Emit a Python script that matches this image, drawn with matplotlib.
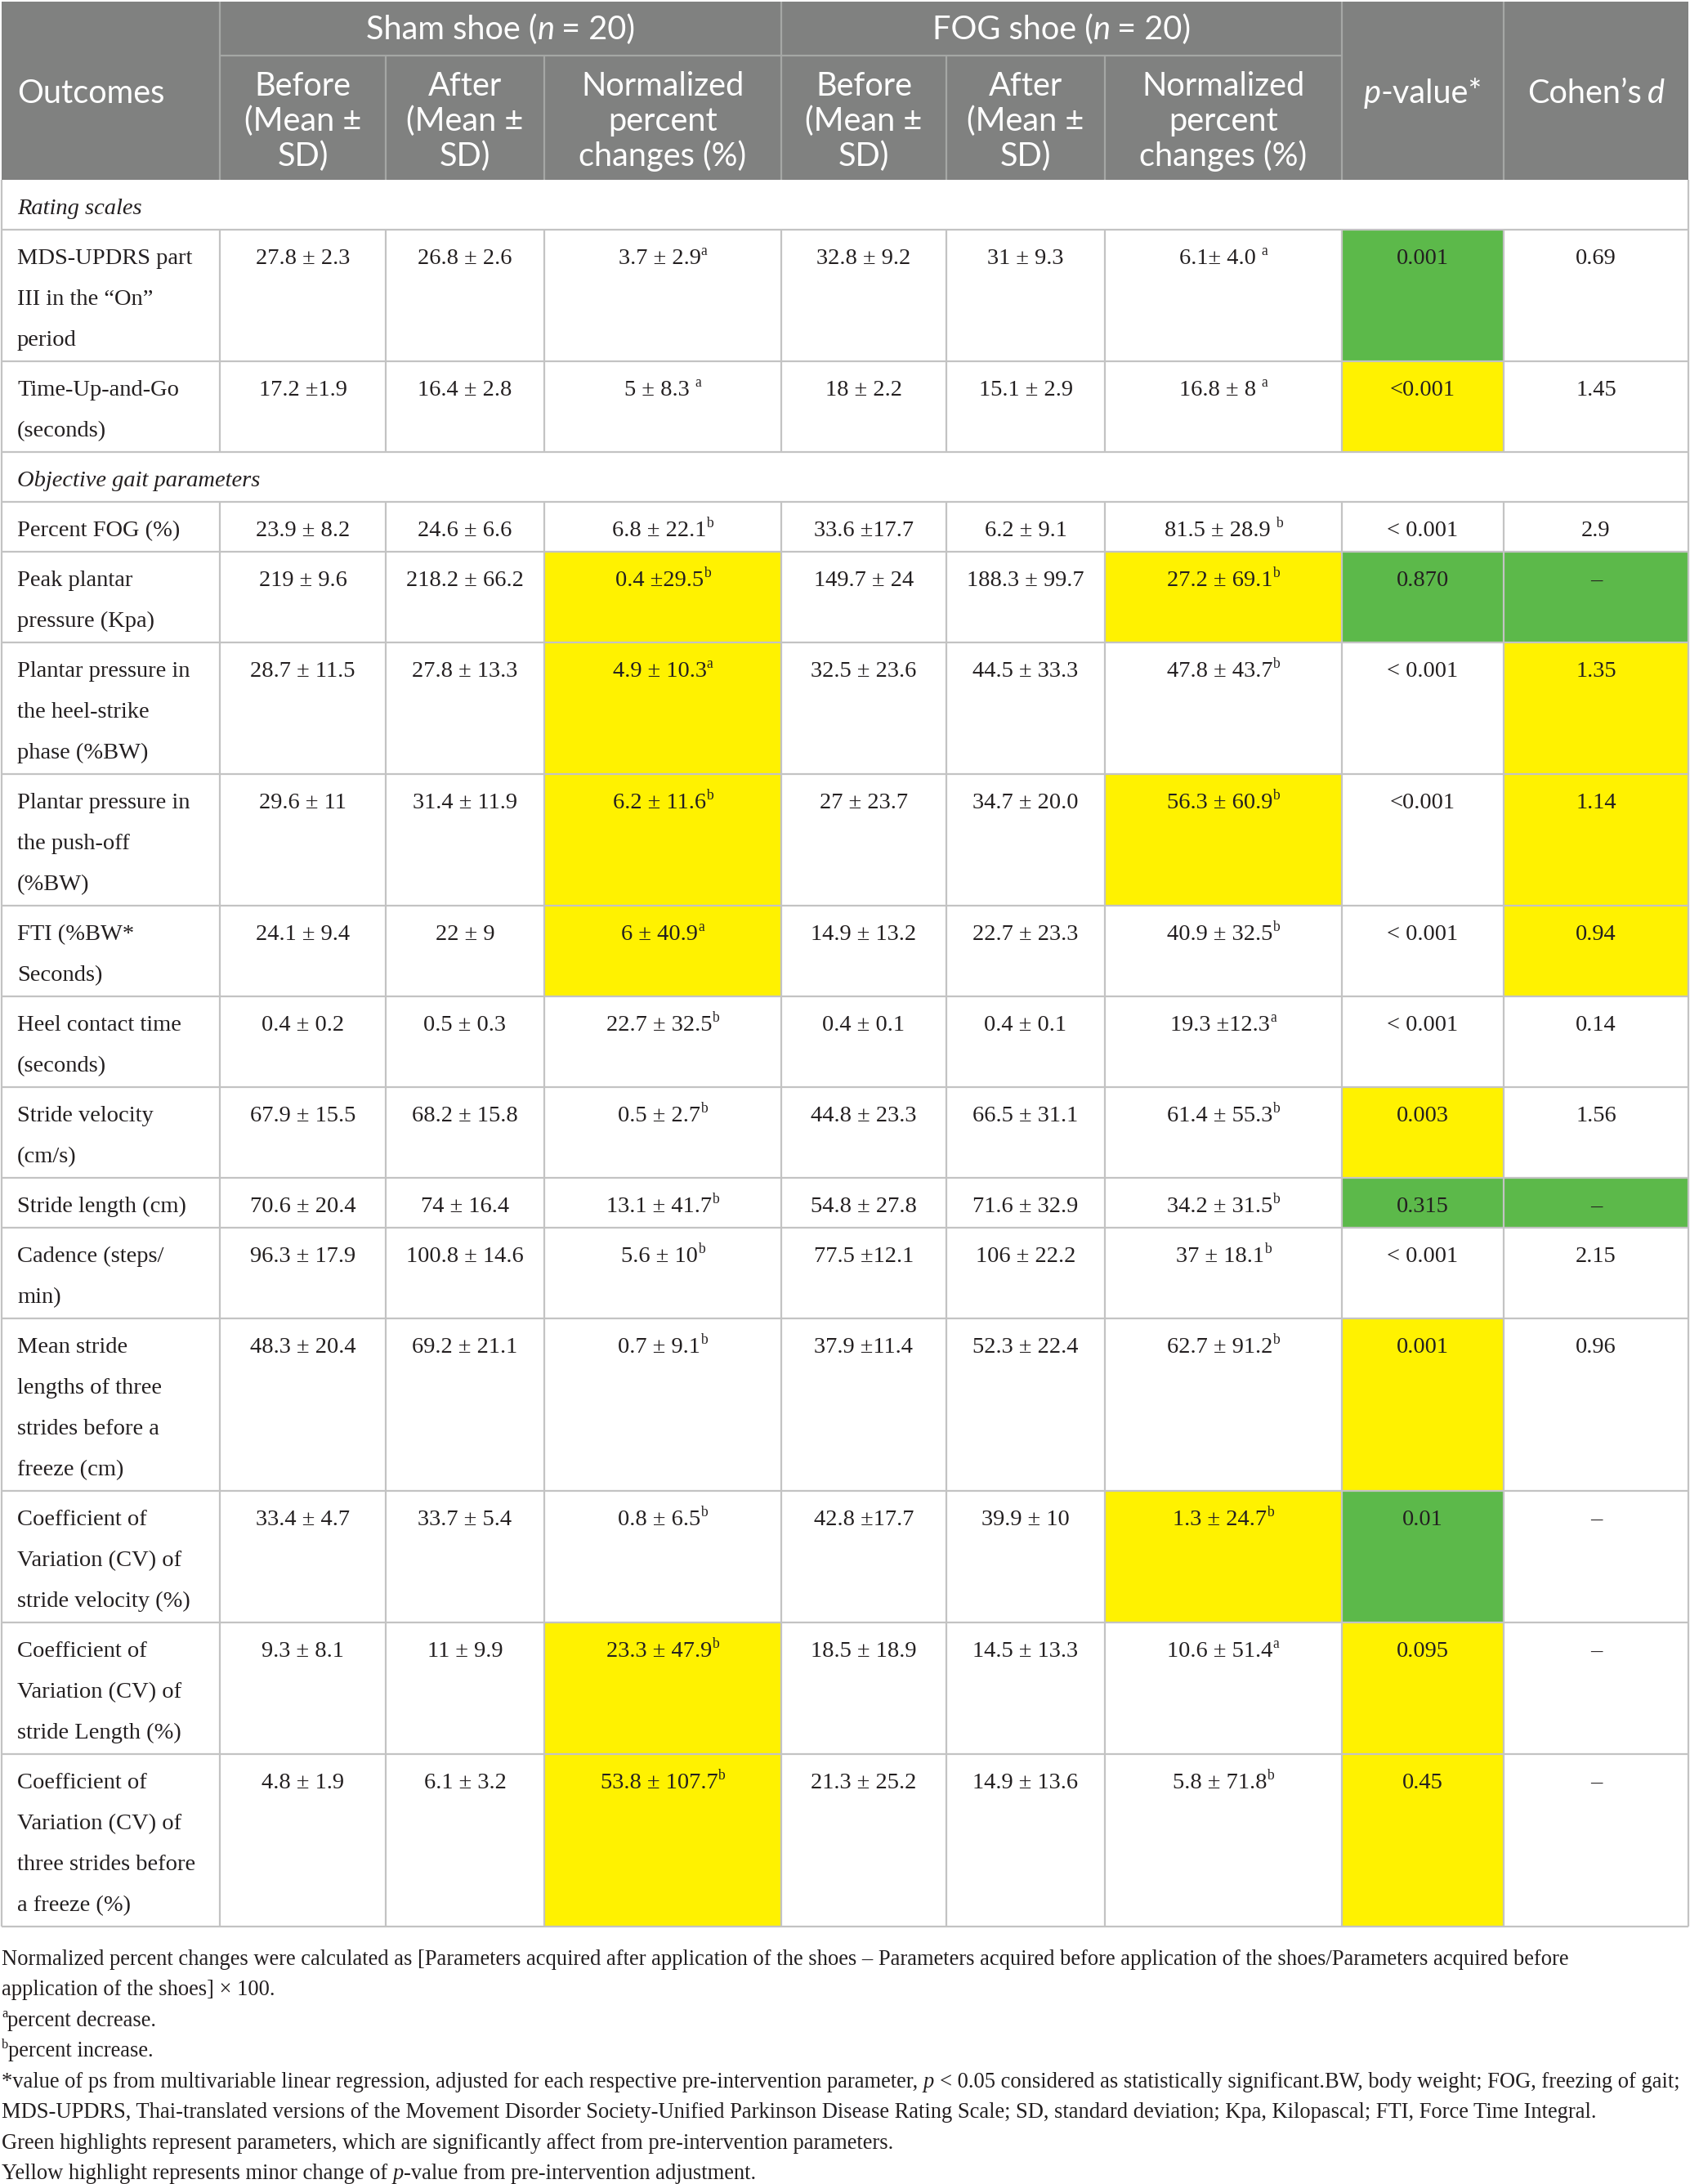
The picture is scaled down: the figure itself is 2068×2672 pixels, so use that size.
import matplotlib
matplotlib.use('Agg')
import matplotlib.pyplot as plt
from matplotlib.patches import Rectangle

W, H, DPI = 2068, 2672, 100

# ---------------- data ----------------
sections = {0: 'Rating scales', 3: 'Objective gait parameters'}

outcomes = [
    None,
    'MDS-UPDRS part\nIII in the “On”\nperiod',
    'Time-Up-and-Go\n(seconds)',
    None,
    'Percent FOG (%)',
    'Peak plantar\npressure (Kpa)',
    'Plantar pressure in\nthe heel-strike\nphase (%BW)',
    'Plantar pressure in\nthe push-off\n(%BW)',
    'FTI (%BW*\nSeconds)',
    'Heel contact time\n(seconds)',
    'Stride velocity\n(cm/s)',
    'Stride length (cm)',
    'Cadence (steps/\nmin)',
    'Mean stride\nlengths of three\nstrides before a\nfreeze (cm)',
    'Coefficient of\nVariation (CV) of\nstride velocity (%)',
    'Coefficient of\nVariation (CV) of\nstride Length (%)',
    'Coefficient of\nVariation (CV) of\nthree strides before\na freeze (%)',
]

sham_before = [None, '27.8 ± 2.3', '17.2 ±1.9', None, '23.9 ± 8.2', '219 ± 9.6', '28.7 ± 11.5',
               '29.6 ± 11', '24.1 ± 9.4', '0.4 ± 0.2', '67.9 ± 15.5', '70.6 ± 20.4', '96.3 ± 17.9',
               '48.3 ± 20.4', '33.4 ± 4.7', '9.3 ± 8.1', '4.8 ± 1.9']
sham_after = [None, '26.8 ± 2.6', '16.4 ± 2.8', None, '24.6 ± 6.6', '218.2 ± 66.2', '27.8 ± 13.3',
              '31.4 ± 11.9', '22 ± 9', '0.5 ± 0.3', '68.2 ± 15.8', '74 ± 16.4', '100.8 ± 14.6',
              '69.2 ± 21.1', '33.7 ± 5.4', '11 ± 9.9', '6.1 ± 3.2']
sham_norm = [None, '3.7 ± 2.9^a', '5 ± 8.3 ^a', None, '6.8 ± 22.1^b', '0.4 ±29.5^b', '4.9 ± 10.3^a',
             '6.2 ± 11.6^b', '6 ± 40.9^a', '22.7 ± 32.5^b', '0.5 ± 2.7^b', '13.1 ± 41.7^b', '5.6 ± 10^b',
             '0.7 ± 9.1^b', '0.8 ± 6.5^b', '23.3 ± 47.9^b', '53.8 ± 107.7^b']
fog_before = [None, '32.8 ± 9.2', '18 ± 2.2', None, '33.6 ±17.7', '149.7 ± 24', '32.5 ± 23.6',
              '27 ± 23.7', '14.9 ± 13.2', '0.4 ± 0.1', '44.8 ± 23.3', '54.8 ± 27.8', '77.5 ±12.1',
              '37.9 ±11.4', '42.8 ±17.7', '18.5 ± 18.9', '21.3 ± 25.2']
fog_after = [None, '31 ± 9.3', '15.1 ± 2.9', None, '6.2 ± 9.1', '188.3 ± 99.7', '44.5 ± 33.3',
             '34.7 ± 20.0', '22.7 ± 23.3', '0.4 ± 0.1', '66.5 ± 31.1', '71.6 ± 32.9', '106 ± 22.2',
             '52.3 ± 22.4', '39.9 ± 10', '14.5 ± 13.3', '14.9 ± 13.6']
fog_norm = [None, '6.1± 4.0 ^a', '16.8 ± 8 ^a', None, '81.5 ± 28.9 ^b', '27.2 ± 69.1^b', '47.8 ± 43.7^b',
            '56.3 ± 60.9^b', '40.9 ± 32.5^b', '19.3 ±12.3^a', '61.4 ± 55.3^b', '34.2 ± 31.5^b', '37 ± 18.1^b',
            '62.7 ± 91.2^b', '1.3 ± 24.7^b', '10.6 ± 51.4^a', '5.8 ± 71.8^b']
p_values = [None, '0.001', '<0.001', None, '< 0.001', '0.870', '< 0.001', '<0.001', '< 0.001',
            '< 0.001', '0.003', '0.315', '< 0.001', '0.001', '0.01', '0.095', '0.45']
cohens_d = [None, '0.69', '1.45', None, '2.9', '–', '1.35', '1.14', '0.94', '0.14', '1.56', '–',
            '2.15', '0.96', '–', '–', '–']

# highlight per data column (g = green, y = yellow)
highlights = [None, '......g.', '......y.', None, '........', '..y..ygg', '..y....y', '..y..y.y',
              '..y....y', '........', '......y.', '......gg', '........', '......y.', '.....yg.',
              '..y...y.', '..y...y.']

footnotes = [
    [('Normalized percent changes were calculated as [Parameters acquired after application of the '
      'shoes – Parameters acquired before application of the shoes/Parameters acquired before', 'n')],
    [('application of the shoes] × 100.', 'n')],
    [('a', 'sup'), ('percent decrease.', 'n')],
    [('b', 'sup'), ('percent increase.', 'n')],
    [('*value of ps from multivariable linear regression, adjusted for each respective pre-intervention '
      'parameter,', 'n'), ('0.25', 'gap'), ('p', 'i'), ('0.25', 'gap'),
     ('< 0.05 considered as statistically significant.BW, body weight; FOG, freezing of gait;', 'n')],
    [('MDS-UPDRS, Thai-translated versions of the Movement Disorder Society-Unified Parkinson Disease '
      'Rating Scale; SD, standard deviation; Kpa, Kilopascal; FTI, Force Time Integral.', 'n')],
    [('Green highlights represent parameters, which are significantly affect from pre-intervention '
      'parameters.', 'n')],
    [('Yellow highlight represents minor change of', 'n'), ('0.25', 'gap'), ('p', 'i'),
     ('-value from pre-intervention adjustment.', 'n')],
]

# ---------------- layout ----------------
col_x = [2, 269, 472, 666, 956, 1158, 1352, 1642, 1840, 2066]
head_top, head_mid, head_bot = 2, 68, 220
line_h = 50
row_pad = 11
first_line = 33
fn_top, fn_step = 2395, 37.5

HEAD_BG = '#808180'
HEAD_LINE = '#a5a7a5'
GRID = '#c3c3c3'
TEXT = '#231f20'
FILL = {'g': '#5cb94a', 'y': '#fff200'}
SERIF = 'Liberation Serif'
SANS = 'Lato'
BODY_FS = 20.5
HEAD_FS = 28.6
FOOT_FS = 19.1

fig = plt.figure(figsize=(W / DPI, H / DPI), dpi=DPI)
ax = fig.add_axes([0, 0, 1, 1])
ax.set_xlim(0, W)
ax.set_ylim(H, 0)
ax.axis('off')
renderer = fig.canvas.get_renderer()


def draw_runs(runs, x, yc, size, family, ha='left', color=TEXT, cap=0.33):
    em = size * DPI / 72
    base = yc + cap * em
    placed = []
    for txt, kind in runs:
        if kind == 'gap':
            placed.append((None, float(txt) * em))
            continue
        fs = size * 0.62 if kind == 'sup' else size
        dy = -0.4 * em if kind == 'sup' else 0
        t = ax.text(0, base + dy, txt, fontsize=fs, family=family, color=color,
                    style='italic' if kind == 'i' else 'normal', va='baseline', ha='left')
        placed.append((t, t.get_window_extent(renderer).width))
    total = sum(w for _, w in placed)
    x0 = x - total / 2 if ha == 'center' else x
    for t, w in placed:
        if t is not None:
            t.set_x(x0)
        x0 += w
    return total


def cell_runs(s):
    if '^' not in s:
        return [(s, 'n')]
    main, note = s.split('^')
    runs = [(main.rstrip(), 'n')]
    if main.endswith(' '):
        runs.append(('0.22', 'gap'))
    runs.append((note, 'sup'))
    return runs


# ---------------- header ----------------
ax.add_patch(Rectangle((col_x[0], head_top), col_x[-1] - col_x[0], head_bot - head_top,
                       facecolor=HEAD_BG, edgecolor='none'))
hk = dict(size=HEAD_FS, family=SANS, color='white', cap=0.36)
draw_runs([('Outcomes', 'n')], 21, 112, **hk)
draw_runs([('Sham shoe (', 'n'), ('n', 'i'), ('0.2', 'gap'), ('= 20)', 'n')],
          (col_x[1] + col_x[4]) / 2, 34, ha='center', **hk)
draw_runs([('FOG shoe (', 'n'), ('n', 'i'), ('0.2', 'gap'), ('= 20)', 'n')],
          (col_x[4] + col_x[7]) / 2, 34, ha='center', **hk)
draw_runs([('p', 'i'), ('-value*', 'n')], (col_x[7] + col_x[8]) / 2, 112, ha='center', **hk)
draw_runs([('Cohen’s', 'n'), ('0.2', 'gap'), ('d', 'i')], (col_x[8] + col_x[9]) / 2, 112,
          ha='center', **hk)
sub_heads = [['Before', '(Mean ±', 'SD)'], ['After', '(Mean ±', 'SD)'],
             ['Normalized', 'percent', 'changes (%)']] * 2
for j, lines in enumerate(sub_heads):
    xc = (col_x[j + 1] + col_x[j + 2]) / 2
    for k, ln in enumerate(lines):
        draw_runs([(ln, 'n')], xc, 103 + 43 * k, ha='center', **hk)

hl = dict(color=HEAD_LINE, lw=1.6, solid_capstyle='butt')
ax.plot([col_x[1], col_x[7]], [head_mid, head_mid], **hl)
for j in [1, 4, 7, 8]:
    ax.plot([col_x[j], col_x[j]], [head_top, head_bot], **hl)
for j in [2, 3, 5, 6]:
    ax.plot([col_x[j], col_x[j]], [head_mid, head_bot], **hl)

# ---------------- body ----------------
gl = dict(color=GRID, lw=1.6, solid_capstyle='butt')
y = head_bot
columns = [sham_before, sham_after, sham_norm, fog_before, fog_after, fog_norm, p_values, cohens_d]
for i in range(len(outcomes)):
    if i in sections:
        n_lines = 1
    else:
        n_lines = outcomes[i].count('\n') + 1
    h = n_lines * line_h + row_pad
    ty = y + first_line
    if i in sections:
        draw_runs([(sections[i], 'i')], 21, ty, BODY_FS, SERIF)
    else:
        for j, code in enumerate(highlights[i]):
            if code in FILL:
                ax.add_patch(Rectangle((col_x[j + 1], y), col_x[j + 2] - col_x[j + 1], h,
                                       facecolor=FILL[code], edgecolor='none', zorder=0))
        for k, ln in enumerate(outcomes[i].split('\n')):
            draw_runs([(ln, 'n')], 21, ty + k * line_h, BODY_FS, SERIF)
        for j, col in enumerate(columns):
            draw_runs(cell_runs(col[i]), (col_x[j + 1] + col_x[j + 2]) / 2, ty, BODY_FS, SERIF,
                      ha='center')
        for j in range(1, 9):
            ax.plot([col_x[j], col_x[j]], [y, y + h], **gl)
    ax.plot([col_x[0], col_x[-1]], [y + h, y + h], **gl)
    y += h

table_bottom = y
ax.plot([col_x[0], col_x[0]], [head_bot, table_bottom], **gl)
ax.plot([col_x[-1], col_x[-1]], [head_bot, table_bottom], **gl)

# ---------------- footnotes ----------------
for k, runs in enumerate(footnotes):
    draw_runs(runs, 2, fn_top + k * fn_step, FOOT_FS, SERIF)

fig.savefig('out.png', dpi=DPI, facecolor='white')
